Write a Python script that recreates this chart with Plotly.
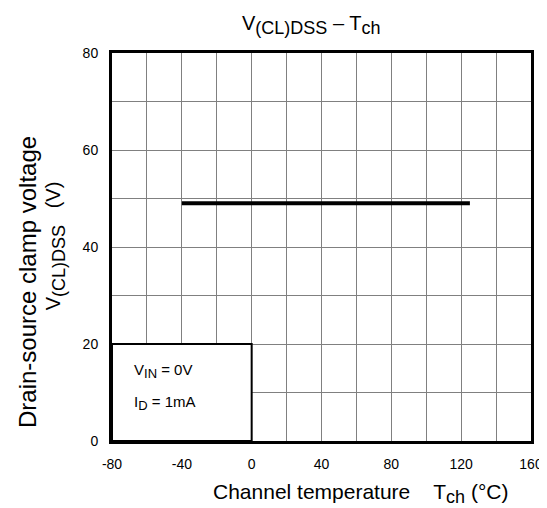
import plotly.graph_objects as go

# Data
temp_c = [-40, 125]
v_cl_dss = [49, 49]

x_ticks = [-80, -40, 0, 40, 80, 120, 160]
x_ticklabels = ["-80", "-40", "0", "40", "80", "120", "160"]
y_ticks = [0, 20, 40, 60, 80]
y_ticklabels = ["0", "20", "40", "60", "80"]

FONT = "Liberation Sans, Arial, sans-serif"


def sub(t, size):
    return f'<sub><span style="font-size:{size}px">{t}</span></sub>'


cond_lines = [f"V{sub('IN', 13)} = 0V", f"I{sub('D', 13)} = 1mA"]
title_text = f"V{sub('(CL)DSS', 18)} – T{sub('ch', 18)}"
xtitle_text = "Channel temperature\u00a0\u00a0\u00a0 T" + sub("ch", 18) + " (°C)"
ytitle_line1 = "Drain-source clamp voltage"
ytitle_line2 = "V" + sub("(CL)DSS", 18) + "\u00a0\u00a0\u00a0(V)"

fig = go.Figure()
fig.add_trace(go.Scatter(x=temp_c, y=v_cl_dss, mode="lines",
                         line=dict(color="black", width=4), showlegend=False))

W, H = 547, 508
L, R, T, B = 104, 14, 45, 75

fig.update_layout(
    width=W, height=H,
    margin=dict(l=L, r=R, t=T, b=B),
    paper_bgcolor="white", plot_bgcolor="white",
    font=dict(family=FONT, color="black", size=14),
    showlegend=False,
)

fig.update_xaxes(
    range=[-80, 160], tickvals=x_ticks, ticktext=x_ticklabels,
    showgrid=True, gridcolor="#808080", gridwidth=1,
    minor=dict(dtick=20, tick0=0, showgrid=True, gridcolor="#808080", gridwidth=1),
    showline=True, linecolor="black", linewidth=3, mirror=True,
    zeroline=False, ticks="", ticklabelstandoff=8,
    tickfont=dict(size=14),
)
fig.update_yaxes(
    range=[0, 80], tickvals=y_ticks, ticktext=y_ticklabels,
    showgrid=True, gridcolor="#808080", gridwidth=1,
    minor=dict(dtick=10, tick0=0, showgrid=True, gridcolor="#808080", gridwidth=1),
    showline=True, linecolor="black", linewidth=3, mirror=True,
    zeroline=False, ticks="", ticklabelstandoff=8,
    tickfont=dict(size=14),
)

# Conditions box
fig.add_shape(type="rect", xref="x", yref="y", x0=-80, x1=0, y0=0, y1=20,
              fillcolor="white", line=dict(color="black", width=2), layer="above")

pw, ph = W - L - R, H - T - B


def px(xp):
    return (xp - L) / pw


def py(yp):
    return 1 - (yp - T) / ph


fig.add_annotation(x=px(124), y=py(363), xref="paper", yref="paper", text=cond_lines[0],
                   showarrow=False, xanchor="left", yanchor="middle", font=dict(size=15))
fig.add_annotation(x=px(124), y=py(395), xref="paper", yref="paper", text=cond_lines[1],
                   showarrow=False, xanchor="left", yanchor="middle", font=dict(size=15))

# Title
fig.add_annotation(x=px(308), y=py(17), xref="paper", yref="paper",
                   text=title_text,
                   showarrow=False, xanchor="center", yanchor="middle", font=dict(size=20))

# X axis title
fig.add_annotation(x=px(205), y=py(485), xref="paper", yref="paper",
                   text=xtitle_text,
                   showarrow=False, xanchor="left", yanchor="middle", font=dict(size=21))

# Y axis title (two lines)
fig.add_annotation(x=px(17), y=py(274), xref="paper", yref="paper",
                   text=ytitle_line1, textangle=-90,
                   showarrow=False, xanchor="center", yanchor="middle", font=dict(size=24))
fig.add_annotation(x=px(46), y=py(238), xref="paper", yref="paper",
                   text=ytitle_line2, textangle=-90,
                   showarrow=False, xanchor="center", yanchor="middle", font=dict(size=20))

fig.write_html("out.html")
